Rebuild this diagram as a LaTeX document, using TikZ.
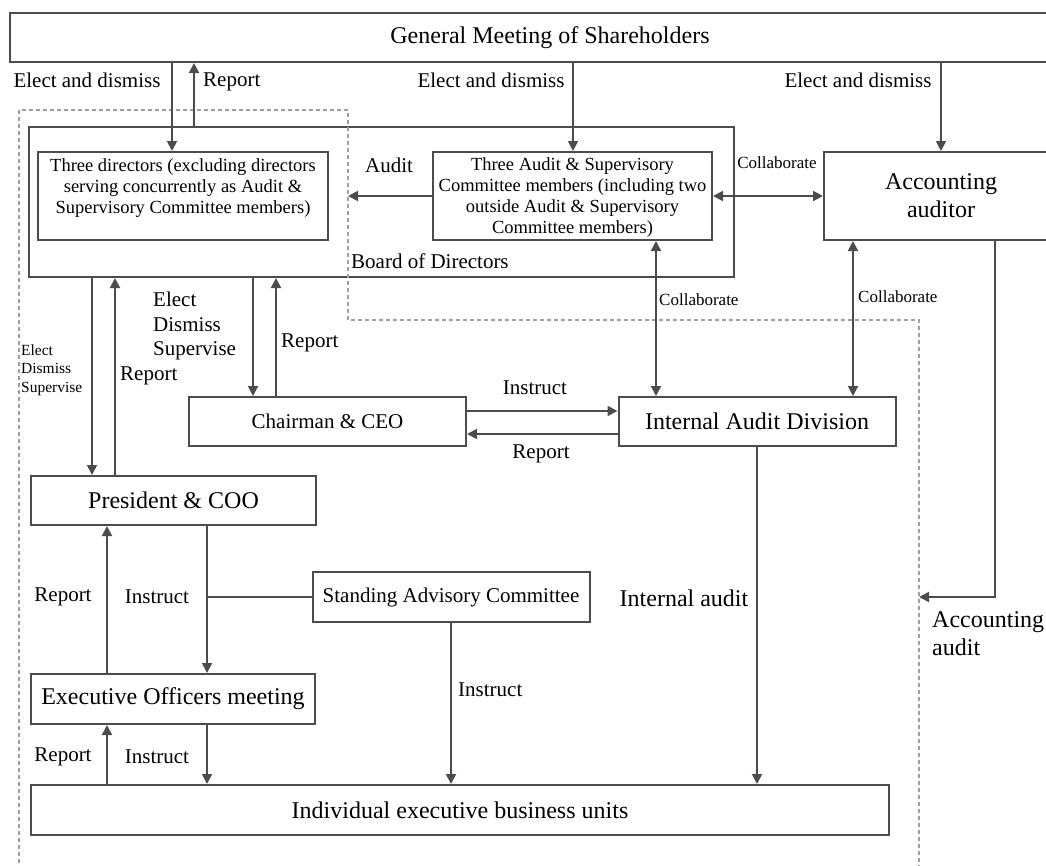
\documentclass[tikz,border=0pt]{standalone}
\usepackage{fontspec}
\setmainfont{Liberation Serif}
\usetikzlibrary{arrows.meta}
\colorlet{linegray}{black!70}
\newcommand{\fsbig}{\fontsize{24}{28}\selectfont}
\newcommand{\fsmid}{\fontsize{21}{24.5}\selectfont}
\newcommand{\fsbox}{\fontsize{18.5}{21}\selectfont}
\newcommand{\fscol}{\fontsize{17}{19}\selectfont}
\newcommand{\fstiny}{\fontsize{15.5}{18.5}\selectfont}

\begin{document}
\begin{tikzpicture}[x=1pt, y=-1pt,
    orgbox/.style={draw=linegray, line width=2pt, inner sep=2pt},
    txt/.style={inner sep=1pt},
    conn/.style={draw=linegray, line width=1.9pt},
    arr/.style={conn, -{Triangle[width=10pt,length=10pt]}},
    arrboth/.style={conn, {Triangle[width=10pt,length=10pt]}-{Triangle[width=10pt,length=10pt]}},
    zone/.style={draw=gray!75, line width=1.6pt, dash pattern=on 4pt off 3pt}]
    %gms - dirs, asc, acc
    %board - pres, ceo
    %ceo - iad, pres - eom - ieb

    \useasboundingbox (0,0) rectangle (1046,865);

    \node[orgbox, font=\fsbig, minimum width=1080, minimum height=49] (gms) at (550,37.5) {General Meeting of Shareholders};
    \node[orgbox, minimum width=705, minimum height=150] (board) at (381.5,202) {};
    \node[txt, font=\fsmid, anchor=west] (boardlbl) at (350,261) {Board of Directors};
    \node[orgbox, minimum width=290, minimum height=88,
        label={[font=\fsbox, align=center, yshift=8pt]center:{Three directors (excluding directors\\serving concurrently as Audit \&\\Supervisory Committee members)}}] (dirs) at (183,196) {};
    \node[orgbox, minimum width=279, minimum height=88,
        label={[font=\fsbox, align=center, yshift=-2pt]center:{Three Audit \& Supervisory\\Committee members (including two\\outside Audit \& Supervisory\\Committee members)}}] (asc) at (572.5,196) {};
    \node[orgbox, font=\fsbig, align=center, minimum width=234, minimum height=88] (acc) at (941,196) {Accounting\\auditor};
    \node[orgbox, font=\fsmid, minimum width=277, minimum height=49] (ceo) at (327.5,421.5) {Chairman \& CEO};
    \node[orgbox, font=\fsbig, minimum width=277, minimum height=49] (iad) at (757,421.5) {Internal Audit Division};
    \node[orgbox, font=\fsbig, minimum width=285, minimum height=49] (pres) at (173.5,500.5) {President \& COO\hspace{28pt}};
    \node[orgbox, font=\fsmid, minimum width=277, minimum height=50] (sac) at (451,597) {Standing Advisory Committee};
    \node[orgbox, font=\fsbig, minimum width=284, minimum height=50] (eom) at (173,699) {Executive Officers meeting};
    \node[orgbox, font=\fsbig, minimum width=858, minimum height=50] (ieb) at (460,810) {Individual executive business units};

    \coordinate (auditend) at (348,196);
    \coordinate (aaend) at (919,597);

    \draw[zone] (19,870) -- (19,110) -- (348,110) -- (348,320) -- (919,320) -- (919,870);

    \draw[arr] (gms.south -| 172,0) -- (dirs.north -| 172,0);
    \draw[arr] (board.north -| 194,0) -- (gms.south -| 194,0);
    \draw[arr] (gms.south -| 573,0) -- (asc.north -| 573,0);
    \draw[arr] (gms.south -| acc.north) -- (acc.north);
    \draw[arr] (asc.west) -- (auditend);
    \draw[arrboth] (asc.east) -- (acc.west);
    \draw[arrboth] (asc.south -| 656,0) -- (iad.north -| 656,0);
    \draw[arrboth] (acc.south -| 853,0) -- (iad.north -| 853,0);
    \draw[arr] (acc.south -| 995,0) |- (aaend);
    \draw[arr] (board.south -| 92,0) -- (pres.north -| 92,0);
    \draw[arr] (pres.north -| 115,0) -- (board.south -| 115,0);
    \draw[arr] (board.south -| 253,0) -- (ceo.north -| 253,0);
    \draw[arr] (ceo.north -| 276,0) -- (board.south -| 276,0);
    \draw[arr] (ceo.east |- 0,411) -- (iad.west |- 0,411);
    \draw[arr] (iad.west |- 0,434) -- (ceo.east |- 0,434);
    \draw[arr] (pres.south -| 207,0) -- (eom.north -| 207,0);
    \draw[arr] (eom.north -| 107,0) -- (pres.south -| 107,0);
    \draw[conn] (sac.west) -- (sac.west -| 207,0);
    \draw[arr] (sac.south) -- (ieb.north -| sac.south);
    \draw[arr] (iad.south) -- (ieb.north -| iad.south);
    \draw[arr] (eom.south -| 207,0) -- (ieb.north -| 207,0);
    \draw[arr] (ieb.north -| 107,0) -- (eom.south -| 107,0);

    \node[txt, font=\fsmid] (elect1) at (87,80) {Elect and dismiss};
    \node[txt, font=\fsmid, anchor=west] (report1) at (202,82) {Report};
    \node[txt, font=\fsmid] (elect2) at (491,80) {Elect and dismiss};
    \node[txt, font=\fsmid] (elect3) at (858,80) {Elect and dismiss};
    \node[txt, font=\fsmid] (audit) at (389,165) {Audit};
    \node[txt, font=\fscol] (collab1) at (777,163) {Collaborate};
    \node[txt, font=\fscol, anchor=west] (collab2) at (658,300) {Collaborate};
    \node[txt, font=\fscol, anchor=west] (collab3) at (857,297) {Collaborate};
    \node[txt, font=\fsbig, anchor=west, align=left] (accaudit) at (931,634) {Accounting\\audit};
    \node[txt, font=\fstiny, anchor=west, align=left] (eds1) at (20,370) {Elect\\Dismiss\\Supervise};
    \node[txt, font=\fsmid, anchor=west] (report2) at (119,376) {Report};
    \node[txt, font=\fsmid, anchor=west, align=left] (eds2) at (152,326) {Elect\\Dismiss\\Supervise};
    \node[txt, font=\fsmid, anchor=west] (report3) at (280,343) {Report};
    \node[txt, font=\fsmid] (instr1) at (535,388) {Instruct};
    \node[txt, font=\fsmid] (report4) at (541,454) {Report};
    \node[txt, font=\fsmid] (report5) at (63,597) {Report};
    \node[txt, font=\fsmid] (instr2) at (157,597) {Instruct};
    \node[txt, font=\fsbig] (intaudit) at (684,598) {Internal audit};
    \node[txt, font=\fsmid, anchor=west] (instr3) at (457,690) {Instruct};
    \node[txt, font=\fsmid] (report6) at (63,757) {Report};
    \node[txt, font=\fsmid] (instr4) at (157,757) {Instruct};
\end{tikzpicture}
\end{document}
